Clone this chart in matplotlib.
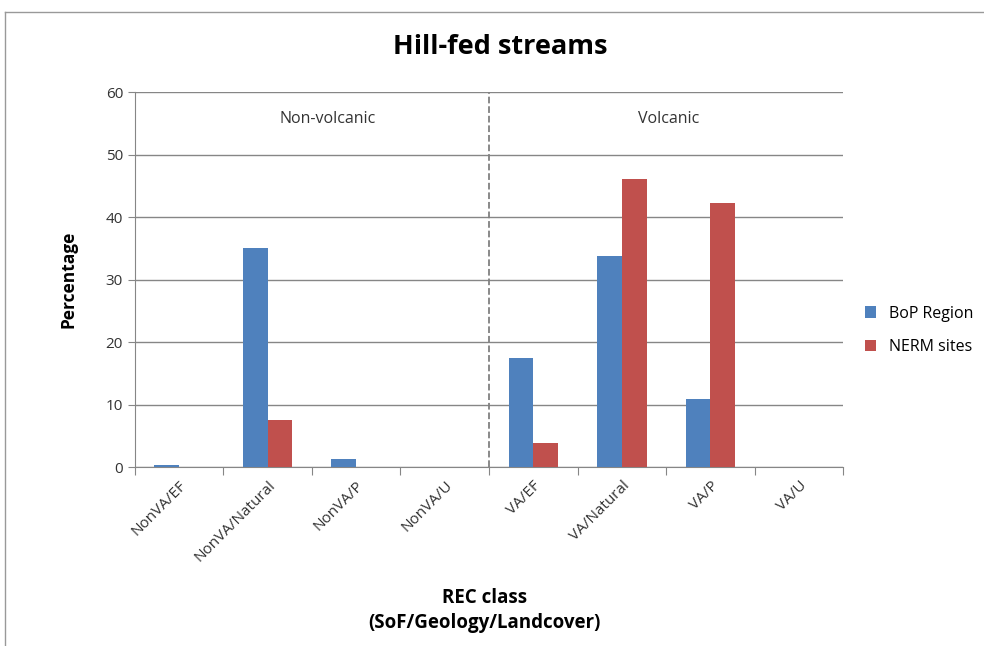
import numpy as np
import matplotlib.pyplot as plt
from matplotlib.lines import Line2D

categories = ['NonVA/EF', 'NonVA/Natural', 'NonVA/P', 'NonVA/U',
              'VA/EF', 'VA/Natural', 'VA/P', 'VA/U']
bop_region = [0.4, 35.1, 1.35, 0, 17.5, 33.8, 10.9, 0]
nerm_sites = [0, 7.6, 0, 0, 3.8, 46.2, 42.3, 0]

plt.rcParams['font.family'] = ['Open Sans', 'DejaVu Sans']

fig = plt.figure(figsize=(9.84, 6.46), dpi=100)
ax = fig.add_axes([0.137, 0.277, 0.72, 0.58])

x = np.arange(len(categories))
w = 0.28
ax.bar(x - w / 2, bop_region, w, color='#4f81bd', label='BoP Region', zorder=3)
ax.bar(x + w / 2, nerm_sites, w, color='#c0504d', label='NERM sites', zorder=3)

ax.set_xlim(-0.5, len(categories) - 0.5)
ax.set_ylim(0, 60)
ax.set_yticks(range(0, 61, 10))
ax.yaxis.grid(True, color='#868686', linewidth=1, zorder=0)

# ticks at category boundaries, labels at centres
ax.set_xticks(np.arange(-0.5, len(categories)), minor=False)
ax.set_xticklabels([])
ax.set_xticks(x, minor=True)
ax.set_xticklabels(categories, minor=True, rotation=45, ha='right',
                   rotation_mode='anchor', fontsize=11, color='#333333')
ax.tick_params(axis='x', which='minor', length=0, pad=8)
ax.tick_params(axis='x', which='major', length=6, color='#868686')
ax.tick_params(axis='y', length=5, color='#868686', labelsize=11, labelcolor='#333333')

for s in ['top', 'right']:
    ax.spines[s].set_visible(False)
for s in ['left', 'bottom']:
    ax.spines[s].set_color('#868686')

ax.axvline(3.5, color='#808080', linestyle='--', linewidth=1.3, zorder=2)
ax.text(1.68, 55.7, 'Non-volcanic', ha='center', va='center', fontsize=11.5, color='#333333')
ax.text(5.53, 55.7, 'Volcanic', ha='center', va='center', fontsize=11.5, color='#333333')

ax.set_ylabel('Percentage', fontsize=12.5, fontweight='bold', labelpad=20)
fig.text(0.508, 0.927, 'Hill-fed streams', ha='center', va='center',
         fontsize=19.5, fontweight='bold')
fig.text(0.492, 0.055, 'REC class\n(SoF/Geology/Landcover)', ha='center', va='center',
         fontsize=13.5, fontweight='bold', linespacing=1.35)

ax.legend(loc='center left', bbox_to_anchor=(1.01, 0.365), frameon=False,
          fontsize=11.5, handlelength=0.7, handleheight=0.7, labelspacing=1.1)

# chart area border (left and top edges visible)
fig.add_artist(Line2D([5 / 984, 5 / 984], [0, 1 - 12 / 646], color='#999999', linewidth=1))
fig.add_artist(Line2D([5 / 984, 1], [1 - 12 / 646, 1 - 12 / 646], color='#999999', linewidth=1))

fig.savefig('out.png', dpi=100)
